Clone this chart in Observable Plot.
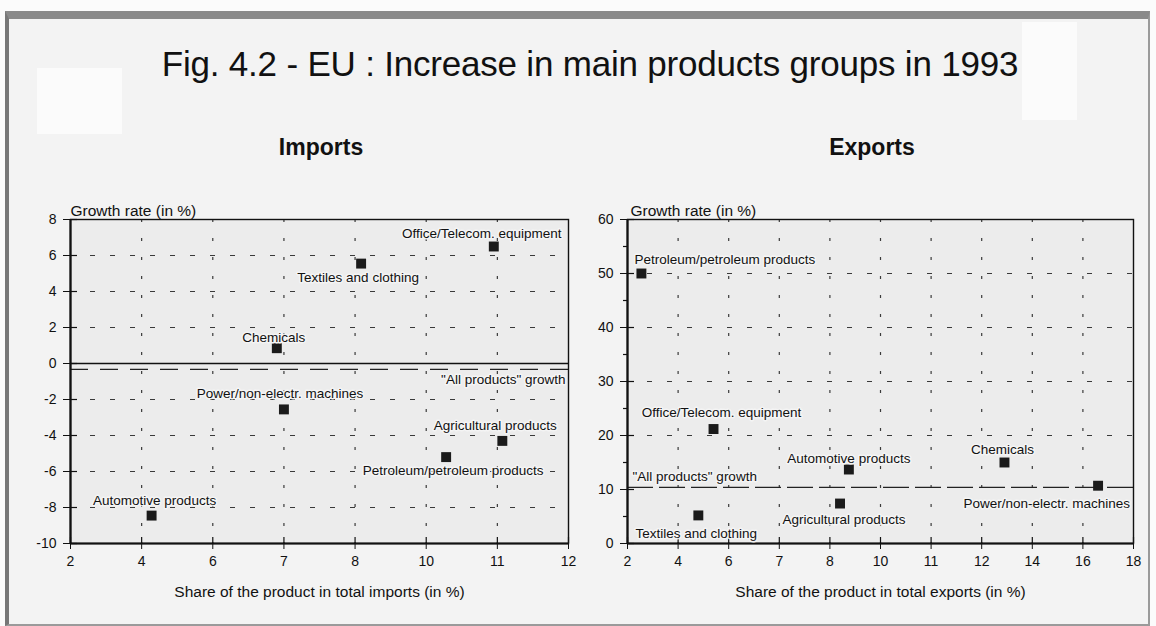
<!DOCTYPE html>
<html>
<head>
<meta charset="utf-8">
<script src="https://cdn.jsdelivr.net/npm/d3@7"></script>
<script src="https://cdn.jsdelivr.net/npm/@observablehq/plot@0.6"></script>
<style>
  html, body { margin: 0; padding: 0; }
  body { width: 1156px; height: 626px; overflow: hidden; background: #fbfbfb; font-family: "Liberation Sans", Arial, sans-serif; color: #111; position: relative; }
  #frame { position: absolute; left: 5px; top: 11px; width: 1139px; height: 605px; border-left: 4px solid #777; border-top: 8px solid #8a8a8a; border-right: 2px solid #9a9a9a; border-bottom: 2px solid #9a9a9a; background: #f3f3f3; }
  .patch { position: absolute; background: #fbfbfb; }
  #title { position: absolute; left: 0; width: 1180px; top: 44px; text-align: center; font-size: 35px; letter-spacing: -0.2px; }
  .ptitle { position: absolute; top: 134px; font-weight: bold; font-size: 23px; text-align: center; width: 200px; }
  #imp { position: absolute; left: 0; top: 190px; }
  #exp { position: absolute; left: 578px; top: 190px; }
</style>
</head>
<body>
<div id="frame"></div>
<div class="patch" style="left:37px;top:68px;width:85px;height:66px"></div>
<div class="patch" style="left:1022px;top:22px;width:55px;height:98px"></div>
<div id="title">Fig. 4.2 - EU : Increase in main products groups in 1993</div>
<div class="ptitle" style="left:221px">Imports</div>
<div class="ptitle" style="left:772px">Exports</div>
<div id="imp"></div>
<div id="exp"></div>
<script>
// ---------- Imports data ----------
const impProducts = ["Office/Telecom. equipment", "Textiles and clothing", "Chemicals", "Power/non-electr. machines", "Agricultural products", "Petroleum/petroleum products", "Automotive products"];
const impShare = [10.95, 8.17, 6.9, 7.0, 11.07, 10.28, 4.28];
const impGrowth = [6.5, 5.55, 0.85, -2.55, -4.3, -5.2, -8.45];
const impAllGrowth = -0.33;
const impXTicks = [2, 4, 6, 7, 8, 10, 11, 12];
const impYTicks = [-10, -8, -6, -4, -2, 0, 2, 4, 6, 8];

// ---------- Exports data ----------
const expProducts = ["Petroleum/petroleum products", "Office/Telecom. equipment", "Automotive products", "Chemicals", "Power/non-electr. machines", "Agricultural products", "Textiles and clothing"];
const expShare = [2.55, 5.4, 8.75, 12.9, 16.6, 8.4, 4.8];
const expGrowth = [50, 21.2, 13.7, 15, 10.7, 7.4, 5.2];
const expAllGrowth = 10.4;
const expXTicks = [2, 4, 6, 7, 8, 10, 11, 12, 14, 16, 18];
const expYTicks = [0, 10, 20, 30, 40, 50, 60];
const expYMinor = [5, 15, 25, 35, 45, 55];

const allLabel = "\"All products\" growth";
const yLabel = "Growth rate (in %)";

// label placement (pixels, relative to each point), kept apart from the data
const impLabelLayout = [[-12, -13, "middle"], [-3, 14, "middle"], [-3, -11, "middle"], [-4, -16, "middle"], [-7, -15, "middle"], [7, 14, "middle"], [3, -15, "middle"]];
const expLabelLayout = [[-7, -14, "start"], [8, -16, "middle"], [0, -11, "middle"], [-2, -13, "middle"], [32, 18, "end"], [4, 16, "middle"], [-2, 18, "middle"]];

const FONT = "'Liberation Sans', Arial, Helvetica, sans-serif";

function panel(o) {
  const n = o.xTicks.length - 1;
  const idx = d3.scaleLinear().domain(o.xTicks).range(d3.range(o.xTicks.length));
  const data = o.products.map((p, i) => ({name: p, x: idx(o.share[i]), y: o.growth[i], lay: o.layout[i]}));
  const yMin = o.yTicks[0], yMax = o.yTicks[o.yTicks.length - 1];
  const height = 430, marginTop = 29, marginBottom = 77;
  const pxX = (o.width - o.marginLeft - o.marginRight) / n;
  const pxY = (height - marginTop - marginBottom) / (yMax - yMin);
  const halo = {stroke: "#f6f6f6", strokeWidth: 3, strokeOpacity: 0.9};
  const marks = [
    Plot.frame({fill: "#ececec"}),
    Plot.ruleY(o.gridY, {stroke: "#3a3a3a", strokeWidth: 1.2, strokeDasharray: "5,15"}),
    Plot.ruleX(d3.range(1, n), {stroke: "#3a3a3a", strokeWidth: 1.2, strokeDasharray: "3,16"}),
    o.zeroLine ? Plot.ruleY([0], {stroke: "#111", strokeWidth: 1.5}) : null,
    Plot.ruleY([o.all], {stroke: "#222", strokeWidth: 1.2, strokeDasharray: o.allDash}),
    Plot.frame({stroke: "#111", strokeWidth: 1.4}),
    Plot.ruleX([0], {stroke: "#111", strokeWidth: 2.2}),
    Plot.ruleY([yMin], {stroke: "#111", strokeWidth: 2}),
    Plot.axisX(d3.range(0, n + 1), {tickSize: 6, tickPadding: 7, tickFormat: i => String(o.xTicks[i]), label: null, fontSize: 14, stroke: "#111"}),
    Plot.axisY(o.yTicks, {tickSize: 7, tickPadding: 7, tickFormat: v => String(v), label: null, fontSize: 14, stroke: "#111"}),
    Plot.ruleX(d3.range(0, n + 1), {y1: yMin, y2: yMin + 6 / pxY, stroke: "#111", strokeWidth: 1.2}),
    Plot.ruleY(o.yTicks, {x1: 0, x2: 7 / pxX, stroke: "#111", strokeWidth: 1.2}),
    o.yMinor ? Plot.ruleY(o.yMinor, {x1: -4 / pxX, x2: 0, stroke: "#111", strokeWidth: 1.2}) : null,
    Plot.dot(data, {x: "x", y: "y", symbol: "square", r: 5.6, fill: "#1b1b1b"}),
    ...data.map(d => Plot.text([d], {x: "x", y: "y", text: "name", dx: d.lay[0], dy: d.lay[1], textAnchor: d.lay[2], fontSize: 13.5, fill: "#111", ...halo})),
    Plot.text([allLabel], {x: o.allX, y: () => o.all, dx: o.allDx, dy: o.allDy, textAnchor: o.allAnchor, fontSize: 13.5, fill: "#111", ...halo}),
    Plot.text([yLabel], {frameAnchor: "top-left", dx: o.yLabelDx, dy: -15, textAnchor: "start", fontSize: 15.5, fill: "#111"}),
    Plot.text([o.xLabel], {frameAnchor: "bottom", dy: 53, fontSize: 15.5, fill: "#111"})
  ].filter(Boolean);
  return Plot.plot({
    width: o.width, height, marginLeft: o.marginLeft, marginRight: o.marginRight, marginTop, marginBottom,
    style: {background: "transparent", fontFamily: FONT, fontSize: "14px", color: "#111", overflow: "visible"},
    x: {domain: [0, n]},
    y: {domain: [yMin, yMax]},
    marks
  });
}

document.getElementById("imp").append(panel({
  products: impProducts, share: impShare, growth: impGrowth, all: impAllGrowth,
  xTicks: impXTicks, yTicks: impYTicks, layout: impLabelLayout,
  gridY: impYTicks.filter(v => v !== 0 && v !== -10 && v !== 8),
  zeroLine: true, allDash: "18,12",
  allX: () => impXTicks.length - 1, allDx: -3, allDy: 10, allAnchor: "end",
  width: 578, marginLeft: 70, marginRight: 10, yLabelDx: 0,
  xLabel: "Share of the product in total imports (in %)"
}));

document.getElementById("exp").append(panel({
  products: expProducts, share: expShare, growth: expGrowth, all: expAllGrowth,
  xTicks: expXTicks, yTicks: expYTicks, yMinor: expYMinor, layout: expLabelLayout,
  gridY: expYTicks.filter(v => v !== 0 && v !== 60 && v !== 10),
  zeroLine: false, allDash: "26,6",
  allX: () => 0, allDx: 5, allDy: -11, allAnchor: "start",
  width: 570, marginLeft: 49, marginRight: 15, yLabelDx: 3,
  xLabel: "Share of the product in total exports (in %)"
}));
</script>
</body>
</html>
